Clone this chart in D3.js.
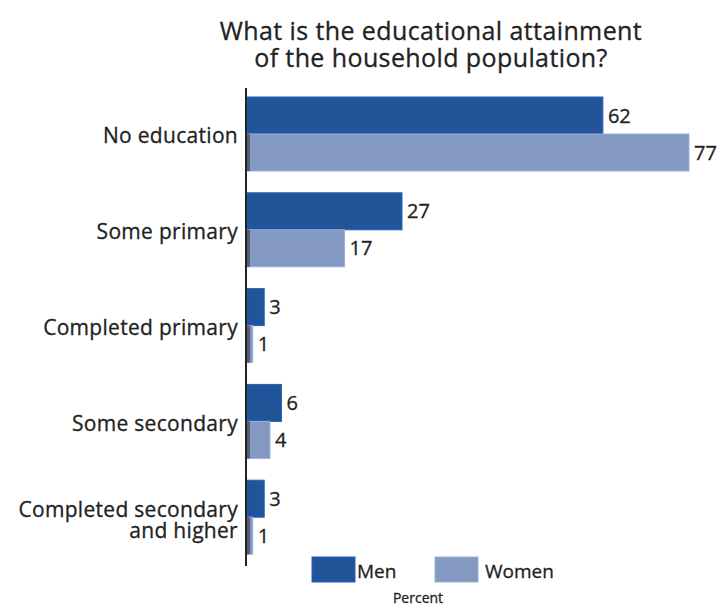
<!DOCTYPE html>
<html>
<head>
<meta charset="utf-8">
<script src="https://cdn.jsdelivr.net/npm/d3@7"></script>
<style>
	body { margin: 0; background: #fff; }
	text { font-family: "Open Sans", sans-serif; fill: #222; stroke: #222; stroke-width: 0.3px; }
</style>
</head>
<body>
<script>

let width = 719;
let height = 607;

// Data
let categories = ["No education", "Some primary", "Completed primary", "Some secondary", "Completed secondary and higher"];
let labelLines = [["No education"], ["Some primary"], ["Completed primary"], ["Some secondary"], ["Completed secondary", "and higher"]];
let titleLines = ["What is the educational attainment", "of the household population?"];
let menValues = [62, 27, 3, 6, 3];
let womenValues = [77, 17, 1, 4, 1];

let series = [
	{title: "Men", color: "#22549a", values: menValues},
	{title: "Women", color: "#8499c2", values: womenValues}
];

let xScale = d3.scaleLinear()
	.domain([0, 77])
	.range([247, 689]);

let yScale = d3.scaleBand()
	.domain(categories)
	.range([97, 576])
	.padding(0);

let subScale = d3.scaleBand()
	.domain(series.map(s => s.title))
	.range([0, 74]);

let svg = d3.select("body")
	.append("svg")
		.attr("width", width)
		.attr("height", height);

// Title
svg.selectAll("text.title")
	.data(titleLines)
	.enter().append("text")
	.attr("class", "title")
	.attr("x", 431)
	.attr("y", (d, i) => 40 + i * 27)
	.attr("text-anchor", "middle")
	.style("font-size", "25px")
	.style("letter-spacing", "0.4px")
	.text(d => d);

// Bars
series.forEach((s) => {
	let g = svg.append("g");
	g.selectAll("rect")
		.data(categories)
		.enter().append("rect")
		.attr("x", xScale(0))
		.attr("y", d => yScale(d) + subScale(s.title))
		.attr("width", (d, i) => xScale(s.values[i]) - xScale(0))
		.attr("height", subScale.bandwidth())
		.style("fill", s.color)
		.style("stroke", d3.color(s.color).brighter(0.4))
		.style("stroke-width", 1);

	g.selectAll("text")
		.data(categories)
		.enter().append("text")
		.attr("x", (d, i) => xScale(s.values[i]) + 5)
		.attr("y", d => yScale(d) + subScale(s.title) + subScale.bandwidth() / 2)
		.attr("dy", "0.35em")
		.style("font-size", "20px")
		.text((d, i) => s.values[i]);
});

// dark edge on the women bars next to the axis
svg.append("g").selectAll("rect")
	.data(categories)
	.enter().append("rect")
	.attr("x", xScale(0))
	.attr("y", d => yScale(d) + subScale("Women"))
	.attr("width", 3)
	.attr("height", subScale.bandwidth())
	.style("fill", "#555e6e");

// Axis line
svg.append("line")
	.attr("x1", 246).attr("x2", 246)
	.attr("y1", 88).attr("y2", 566)
	.style("stroke", "#222")
	.style("stroke-width", 2);

// Category labels
svg.append("g").selectAll("text")
	.data(categories)
	.enter().append("text")
	.attr("text-anchor", "end")
	.attr("x", 238)
	.attr("y", (d, i) => yScale(d) + subScale.step() + 2 - (labelLines[i].length - 1) * 10)
	.style("font-size", "21px")
	.style("letter-spacing", "0.3px")
	.each(function(d, i) {
		let t = d3.select(this);
		labelLines[i].forEach((line, j) => {
			t.append("tspan").attr("x", 238).attr("dy", j == 0 ? "0.35em" : 21).text(line);
		});
	});

// Legend
let legend = svg.selectAll("g.legend")
	.data(series)
	.enter().append("g")
	.attr("class", "legend");

legend.append("rect")
	.attr("x", (d, i) => 312 + i * 123)
	.attr("y", 557)
	.attr("width", 43)
	.attr("height", 25)
	.style("fill", d => d.color)
	.style("stroke", d => d3.color(d.color).brighter(0.4));

legend.append("text")
	.attr("x", (d, i) => 357 + i * 128)
	.attr("y", 578)
	.style("font-size", "19px")
	.text(d => d.title);

svg.append("text")
	.attr("x", 418)
	.attr("y", 603)
	.attr("text-anchor", "middle")
	.style("font-size", "14px")
	.text("Percent");

</script>
</body>
</html>
